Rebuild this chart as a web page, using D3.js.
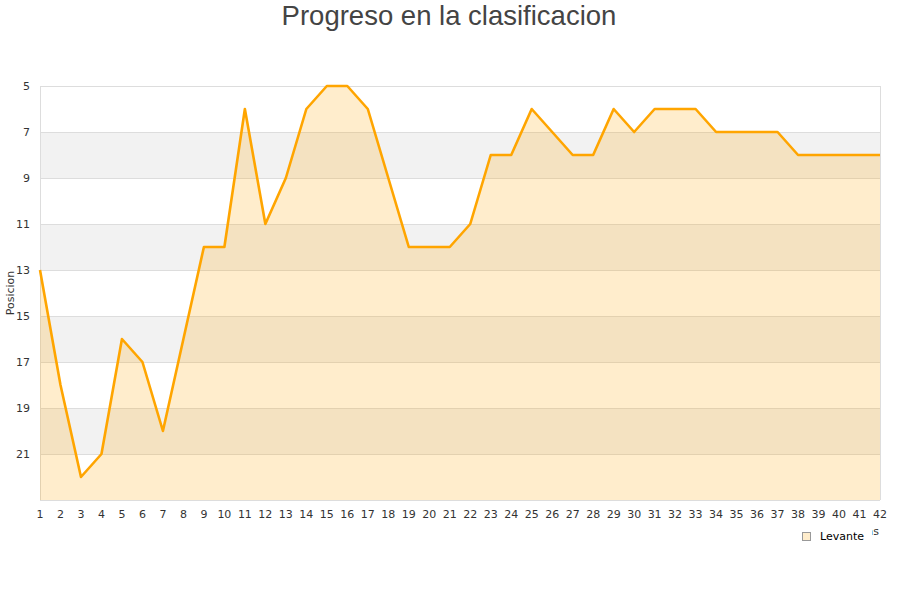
<!DOCTYPE html>
<html><head><meta charset="utf-8">
<script src="https://cdn.jsdelivr.net/npm/d3@7"></script>
<style>body{margin:0;background:#fff}svg{display:block}</style>
</head><body>
<svg id="c" width="900" height="600"></svg>
<script>
const jornadas = d3.range(1, 43);
const posiciones = [13,18,22,21,16,17,20,16,12,12,6,11,9,6,5,5,6,9,12,12,12,11,8,8,6,7,8,8,6,7,6,6,6,7,7,7,7,8,8,8,8,8];
const yTicks = [5,7,9,11,13,15,17,19,21];
const bandas = [[7,9],[11,13],[15,17],[19,21]];
const titulo = "Progreso en la clasificacion";
const equipo = "Levante";

const svg = d3.select("#c");
const L = 40, R = 880, T = 86, B = 500;
const x = d3.scaleLinear().domain([1, 42]).range([L, R]);
const y = d3.scaleLinear().domain([5, 23]).range([T, B]);

svg.append("text").attr("x", 449).attr("y", 25).attr("text-anchor", "middle")
  .attr("font-family", "Liberation Sans, Arial, sans-serif").attr("font-size", 27.5)
  .attr("fill", "#444").text(titulo);

svg.selectAll("rect.band").data(bandas).enter().append("rect")
  .attr("x", L).attr("width", R - L)
  .attr("y", d => y(d[0])).attr("height", d => y(d[1]) - y(d[0]))
  .attr("fill", "#f2f2f2");

svg.selectAll("line.grid").data(yTicks.concat([23])).enter().append("line")
  .attr("x1", L).attr("x2", R).attr("y1", d => y(d) + 0.5).attr("y2", d => y(d) + 0.5)
  .attr("stroke", "#dddddd");
svg.append("line").attr("x1", L + 0.5).attr("x2", L + 0.5).attr("y1", T).attr("y2", B).attr("stroke", "#dddddd");
svg.append("line").attr("x1", R + 0.5).attr("x2", R + 0.5).attr("y1", T).attr("y2", B).attr("stroke", "#dddddd");

const area = d3.area().x((d, i) => x(jornadas[i])).y0(y(23)).y1(d => y(d));
svg.append("path").datum(posiciones).attr("d", area).attr("fill", "rgba(255,165,0,0.2)");
const line = d3.line().x((d, i) => x(jornadas[i])).y(d => y(d));
svg.append("path").datum(posiciones).attr("d", line).attr("fill", "none")
  .attr("stroke", "#ffa500").attr("stroke-width", 2.6).attr("stroke-linejoin", "round");

const tickFont = "DejaVu Sans, sans-serif";
svg.selectAll("text.yt").data(yTicks).enter().append("text")
  .attr("x", 30).attr("y", d => y(d) + 4).attr("text-anchor", "end")
  .attr("font-family", tickFont).attr("font-size", 11).attr("fill", "#333").text(d => d);
svg.selectAll("text.xt").data(jornadas).enter().append("text")
  .attr("x", d => x(d)).attr("y", 518).attr("text-anchor", "middle")
  .attr("font-family", tickFont).attr("font-size", 11).attr("fill", "#333").text(d => d);

svg.append("text").attr("transform", "translate(14,293) rotate(-90)").attr("text-anchor", "middle")
  .attr("font-family", tickFont).attr("font-size", 11).attr("fill", "#333").text("Posicion");

svg.append("text").attr("x", 879).attr("y", 535).attr("text-anchor", "end")
  .attr("font-family", tickFont).attr("font-size", 11).attr("fill", "#333").text("Jornadas");
svg.append("rect").attr("x", 792).attr("y", 526).attr("width", 80).attr("height", 22).attr("fill", "#fff");
svg.append("rect").attr("x", 802.5).attr("y", 532.5).attr("width", 8).attr("height", 8)
  .attr("fill", "#ffedcc").attr("stroke", "#999");
svg.append("text").attr("x", 820).attr("y", 540).attr("font-family", tickFont)
  .attr("font-size", 11).attr("fill", "#000").text(equipo);
</script>
</body></html>
